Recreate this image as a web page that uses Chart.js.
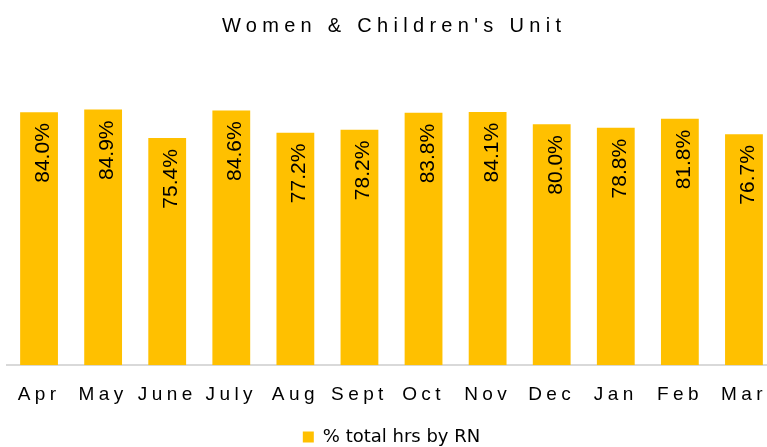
<!DOCTYPE html>
<html>
<head>
<meta charset="utf-8">
<script src="https://cdn.jsdelivr.net/npm/chart.js@4.4.1/dist/chart.umd.min.js"></script>
<style>
  html, body { margin: 0; padding: 0; background: #fff; overflow: hidden; }
  #wrap { position: relative; width: 783px; height: 447px; }
</style>
</head>
<body>
<div id="wrap"><canvas id="grafico"></canvas></div>
<script>
const titulo = "Women & Children's Unit";
const meses = ["Apr", "May", "June", "July", "Aug", "Sept", "Oct", "Nov", "Dec", "Jan", "Feb", "Mar"];
const valores = [84.0, 84.9, 75.4, 84.6, 77.2, 78.2, 83.8, 84.1, 80.0, 78.8, 81.8, 76.7];
const serie = "% total hrs by RN";

const corBarra = "#FFC000";
const fonte = '"Liberation Sans", Arial, sans-serif';

// labels dentro das barras, espaçamento de letras e título
const textoPlugin = {
  id: "texto",
  beforeDraw(chart) {
    chart.ctx.letterSpacing = "0px";
  },
  afterDatasetsDraw(chart) {
    const ctx = chart.ctx;
    const meta = chart.getDatasetMeta(0);
    ctx.save();
    ctx.font = "21px " + fonte;
    ctx.fillStyle = "#000";
    ctx.textAlign = "right";
    ctx.textBaseline = "alphabetic";
    meta.data.forEach((barra, i) => {
      ctx.save();
      ctx.translate(barra.x + 10, barra.y + 11);
      ctx.rotate(-Math.PI / 2);
      ctx.fillText(valores[i].toFixed(1) + "%", 0, 0);
      ctx.restore();
    });
    ctx.restore();
    // meses do eixo x são desenhados depois (ticks.z = 1)
    ctx.letterSpacing = "4.4px";
  },
  afterDraw(chart) {
    const ctx = chart.ctx;
    ctx.save();
    ctx.letterSpacing = "5.3px";
    ctx.font = "20px " + fonte;
    ctx.fillStyle = "#000";
    ctx.textAlign = "center";
    ctx.textBaseline = "alphabetic";
    ctx.fillText(titulo, chart.width / 2 + 2.6, 32);
    ctx.restore();
    ctx.letterSpacing = "0px";
  },
};

new Chart(document.getElementById("grafico"), {
  type: "bar",
  data: {
    labels: meses,
    datasets: [
      {
        label: serie,
        data: valores,
        backgroundColor: corBarra,
        borderWidth: 0,
        barPercentage: 0.59,
        categoryPercentage: 1,
      },
    ],
  },
  options: {
    responsive: true,
    maintainAspectRatio: false,
    animation: false,
    layout: { padding: { top: 64, left: 7, right: 7, bottom: -9 } },
    scales: {
      x: {
        offset: true,
        grid: { display: false, drawTicks: false },
        border: { display: true, color: "#d9d9d9", width: 2 },
        ticks: {
          z: 1,
          padding: 18,
          color: "#000",
          autoSkip: false,
          maxRotation: 0,
          minRotation: 0,
          font: { family: fonte, size: 19 },
        },
      },
      y: { display: false, min: 0, max: 100 },
    },
    plugins: {
      legend: {
        position: "bottom",
        labels: {
          boxWidth: 11,
          boxHeight: 11,
          padding: 4,
          color: "#000",
          font: { family: '"DejaVu Sans", sans-serif', size: 18 },
        },
      },
      tooltip: { enabled: false },
    },
  },
  plugins: [textoPlugin],
});
</script>
</body>
</html>
